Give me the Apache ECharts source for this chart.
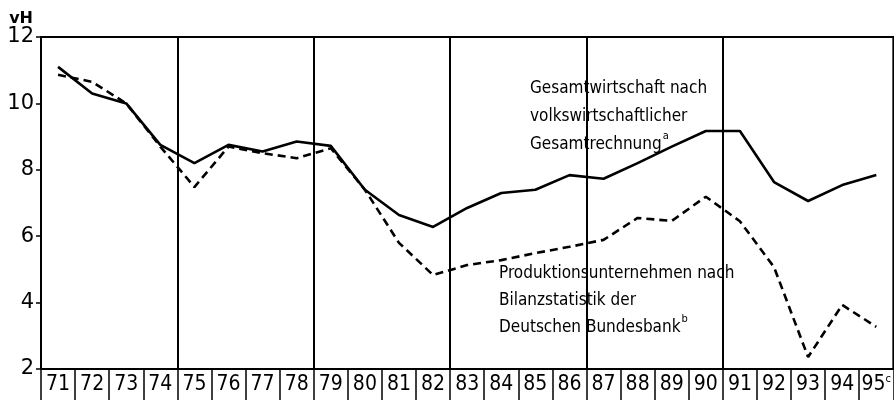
<!DOCTYPE html>
<html>
<head>
<meta charset="utf-8">
<script src="https://cdn.jsdelivr.net/npm/echarts@6/dist/echarts.min.js"></script>
<style>
  html,body{margin:0;padding:0;background:#fff;}
  #chart{width:894px;height:400px;}
</style>
</head>
<body>
<div id="chart"></div>
<script>
// Jahre 1971-1995
var years = ['71','72','73','74','75','76','77','78','79','80','81','82','83','84','85','86','87','88','89','90','91','92','93','94','95'];
// Gesamtwirtschaft nach VGR (durchgezogen)
var gesamt = [11.1,10.3,10.0,8.75,8.2,8.75,8.55,8.85,8.72,7.4,6.64,6.28,6.85,7.3,7.4,7.84,7.73,8.2,8.7,9.17,9.17,7.63,7.06,7.54,7.84];
// Produktionsunternehmen, Bilanzstatistik (gestrichelt)
var bilanz = [10.86,10.65,10.0,8.7,7.48,8.7,8.5,8.35,8.65,7.4,5.8,4.83,5.13,5.28,5.49,5.68,5.89,6.55,6.46,7.19,6.45,5.07,2.36,3.93,3.27];
var yTicks = [2,4,6,8,10,12];

var font = '"Liberation Sans Narrow", "DejaVu Sans Condensed", sans-serif';

var chart = echarts.init(document.getElementById('chart'));
var option = {
  backgroundColor: '#fff',
  animation: false,
  grid: {left: 41, top: 37, width: 854, bottom: 31, show: true, borderColor: '#000', borderWidth: 2},
  xAxis: {
    type: 'category',
    data: years,
    boundaryGap: true,
    axisLine: {lineStyle: {color: '#000', width: 2}},
    axisTick: {show: true, interval: 0, length: 32, lineStyle: {color: '#000', width: 1.5}},
    axisLabel: {
      interval: 0, margin: 5, color: '#000', fontSize: 21, fontFamily: font,
      formatter: function (v) { return v === '95' ? '95{s|c}' : v; },
      rich: {s: {fontSize: 11, verticalAlign: 'top', color: '#000', fontFamily: font, padding: [0, 0, 10, 0]}}
    },
    splitLine: {
      show: true,
      interval: function (idx) { return idx > 0 && idx % 4 === 0 && idx < 24; },
      lineStyle: {color: '#000', width: 2}
    }
  },
  yAxis: {
    type: 'value',
    min: 2, max: 12, interval: 2,
    name: 'vH',
    nameLocation: 'end',
    nameGap: 6,
    nameTextStyle: {color: '#000', fontSize: 16, fontFamily: 'DejaVu Sans', fontWeight: 'bold', align: 'right', padding: [0, 8, 0, 0]},
    axisLine: {show: true, lineStyle: {color: '#000', width: 2}},
    axisTick: {show: true, length: 5, lineStyle: {color: '#000', width: 1.5}},
    axisLabel: {
      color: '#000', fontSize: 21, fontFamily: 'DejaVu Sans', margin: 7,
      formatter: function (v) { return yTicks.indexOf(v) >= 0 ? String(v) : ''; }
    },
    splitLine: {show: false}
  },
  series: [
    {
      name: 'Gesamtwirtschaft',
      type: 'line',
      data: gesamt,
      symbol: 'none',
      lineStyle: {color: '#000', width: 2.6}
    },
    {
      name: 'Produktionsunternehmen',
      type: 'line',
      data: bilanz,
      symbol: 'none',
      lineStyle: {color: '#000', width: 2.6, type: [8, 5]}
    }
  ],
  graphic: [
    {
      type: 'text', left: 530, top: 75,
      style: {
        text: 'Gesamtwirtschaft nach\nvolkswirtschaftlicher\nGesamtrechnung{s|a}',
        fill: '#000', font: '17px ' + font, lineHeight: 28,
        rich: {s: {fontSize: 11, verticalAlign: 'top', fill: '#000', fontFamily: font, padding: [0, 0, 12, 1]}}
      }
    },
    {
      type: 'text', left: 499, top: 260,
      style: {
        text: 'Produktionsunternehmen nach\nBilanzstatistik der\nDeutschen Bundesbank{s|b}',
        fill: '#000', font: '17px ' + font, lineHeight: 27,
        rich: {s: {fontSize: 11, verticalAlign: 'top', fill: '#000', fontFamily: font, padding: [0, 0, 12, 1]}}
      }
    }
  ]
};
chart.setOption(option);
</script>
</body>
</html>
